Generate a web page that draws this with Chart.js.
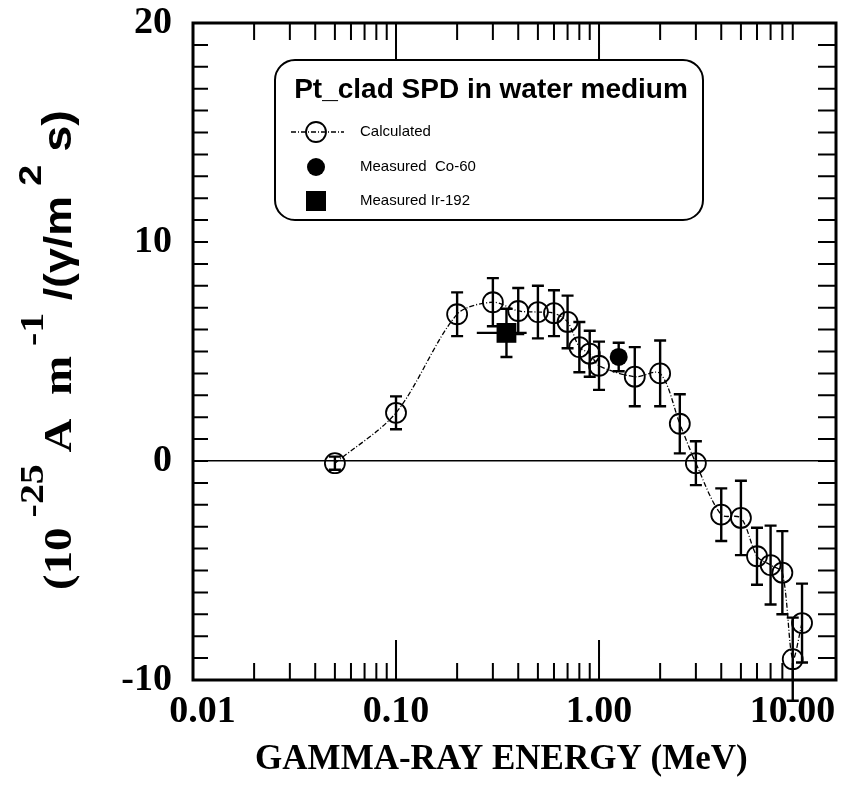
<!DOCTYPE html>
<html>
<head>
<meta charset="utf-8">
<script src="https://cdn.jsdelivr.net/npm/chart.js@4.4.1/dist/chart.umd.min.js"></script>
<style>
  html, body { margin: 0; padding: 0; background: #fff; }
</style>
</head>
<body>
<canvas id="spd" width="846" height="787"></canvas>
<script>
// values
const calcEnergy = [0.05, 0.1, 0.2, 0.3, 0.4, 0.5, 0.6, 0.7, 0.8, 0.9, 1.0, 1.5, 2.0, 2.5, 3.0, 4.0, 5.0, 6.0, 7.0, 8.0, 9.0, 10.0];
const calcValue  = [-0.1, 2.2, 6.7, 7.25, 6.85, 6.8, 6.75, 6.35, 5.2, 4.9, 4.35, 3.85, 4.0, 1.7, -0.1, -2.45, -2.6, -4.35, -4.75, -5.1, -9.05, -7.4];
const calcError  = [0.3, 0.75, 1.0, 1.1, 1.05, 1.2, 1.05, 1.2, 1.15, 1.05, 1.1, 1.35, 1.5, 1.35, 1.0, 1.2, 1.7, 1.3, 1.8, 1.9, 1.9, 1.8];

const coEnergy = [1.25];
const coValue  = [4.75];
const coError  = [0.65];

const irEnergy = [0.35];
const irValue  = [5.85];
const irError  = [1.1];
const irEnergyLo = [0.25];
const irEnergyHi = [0.44];

const xTickValues = [0.01, 0.1, 1, 10];
const xTickLabels = ['\u00a0\u00a00.01', '0.10', '1.00', '10.00\u00a0\u00a0'];
const yTickLabels = ['-10', '0', '10', '20'];

const serif = '"Liberation Serif", "Times New Roman", serif';
const sans = '"Liberation Sans", Arial, sans-serif';

const toPoints = (xs, ys) => xs.map((x, i) => ({ x: x, y: ys[i] }));

// error bars, drawn through the scales
const errorBars = {
  id: 'errorBars',
  afterDatasetsDraw(chart) {
    const ctx = chart.ctx;
    const xs = chart.scales.x, ys = chart.scales.y;
    ctx.save();
    ctx.strokeStyle = '#000';
    ctx.lineWidth = 2.4;
    chart.data.datasets.forEach((ds, i) => {
      if (!ds.err) return;
      const meta = chart.getDatasetMeta(i);
      meta.data.forEach((pt, j) => {
        const v = ds.data[j].y, e = ds.err[j];
        const top = ys.getPixelForValue(v + e), bot = ys.getPixelForValue(v - e);
        ctx.beginPath();
        ctx.moveTo(pt.x, top); ctx.lineTo(pt.x, bot);
        ctx.moveTo(pt.x - 6, top); ctx.lineTo(pt.x + 6, top);
        ctx.moveTo(pt.x - 6, bot); ctx.lineTo(pt.x + 6, bot);
        ctx.stroke();
        if (ds.xLo) {
          ctx.beginPath();
          ctx.moveTo(xs.getPixelForValue(ds.xLo[j]), pt.y);
          ctx.lineTo(xs.getPixelForValue(ds.xHi[j]), pt.y);
          ctx.stroke();
        }
      });
    });
    ctx.restore();
  }
};

// frame, inward ticks, y title and the boxed legend
const frame = {
  id: 'frame',
  afterDraw(chart) {
    const ctx = chart.ctx;
    const a = chart.chartArea;
    const xs = chart.scales.x, ys = chart.scales.y;
    ctx.save();
    ctx.strokeStyle = '#000';

    // x ticks (top and bottom)
    ctx.lineWidth = 2;
    ctx.beginPath();
    for (let d = -2; d <= 0; d++) {
      for (let k = 1; k <= 9; k++) {
        const v = k * Math.pow(10, d);
        const px = xs.getPixelForValue(v);
        const len = k === 1 ? (d === -2 ? 0 : 40) : 17;
        ctx.moveTo(px, a.bottom); ctx.lineTo(px, a.bottom - len);
        ctx.moveTo(px, a.top); ctx.lineTo(px, a.top + len);
      }
    }
    // y ticks (left and right)
    for (let v = -9; v <= 19; v++) {
      const py = ys.getPixelForValue(v);
      ctx.moveTo(a.left, py); ctx.lineTo(a.left + 15, py);
      ctx.moveTo(a.right, py); ctx.lineTo(a.right - 18, py);
    }
    ctx.stroke();

    ctx.lineWidth = 3;
    ctx.strokeRect(a.left, a.top, a.right - a.left, a.bottom - a.top);

    // y title with superscripts
    const parts = [
      { t: '(10', f: 'bold 40px ' + serif, dy: 0 },
      { t: ' -25', f: 'bold 34px ' + serif, dy: -28 },
      { t: ' A  m', f: 'bold 40px ' + serif, dy: 0 },
      { t: ' -1', f: 'bold 34px ' + serif, dy: -28 },
      { t: ' /(\u03b3/m', f: 'bold 38px ' + sans, dy: 0 },
      { t: ' 2', f: 'bold 32px ' + sans, dy: -30 },
      { t: ' s)', f: 'bold 40px ' + sans, dy: 0 }
    ];
    let total = 0;
    parts.forEach(p => { ctx.font = p.f; p.w = ctx.measureText(p.t).width; total += p.w; });
    ctx.translate(71, 350);
    ctx.rotate(-Math.PI / 2);
    ctx.scale(480 / total, 1);
    ctx.fillStyle = '#000';
    ctx.textBaseline = 'alphabetic';
    let cx = -total / 2;
    parts.forEach(p => { ctx.font = p.f; ctx.fillText(p.t, cx, p.dy); cx += p.w; });
    ctx.setTransform(1, 0, 0, 1, 0, 0);

    // legend box
    const bx = 275, by = 60, bw = 428, bh = 160;
    ctx.fillStyle = '#fff';
    ctx.lineWidth = 2;
    ctx.beginPath();
    ctx.roundRect(bx, by, bw, bh, 20);
    ctx.fill();
    ctx.stroke();

    ctx.fillStyle = '#000';
    ctx.font = 'bold 28px ' + sans;
    ctx.textAlign = 'center';
    ctx.textBaseline = 'middle';
    ctx.fillText('Pt_clad SPD in water medium', bx + bw / 2 + 2, 90);

    const rows = [132, 167, 201];
    const sx = 316;
    const dsets = chart.data.datasets;
    // calculated
    ctx.lineWidth = 1.3;
    ctx.setLineDash(dsets[0].borderDash);
    ctx.beginPath();
    ctx.moveTo(291, rows[0]); ctx.lineTo(344, rows[0]);
    ctx.stroke();
    ctx.setLineDash([]);
    ctx.lineWidth = dsets[0].pointBorderWidth;
    ctx.beginPath();
    ctx.arc(sx, rows[0], dsets[0].pointRadius, 0, Math.PI * 2);
    ctx.stroke();
    // Co-60
    ctx.beginPath();
    ctx.arc(sx, rows[1], 9, 0, Math.PI * 2);
    ctx.fill();
    // Ir-192
    ctx.fillRect(sx - 10, rows[2] - 10, 20, 20);

    ctx.font = '15px ' + sans;
    ctx.textAlign = 'left';
    dsets.forEach((ds, i) => ctx.fillText(ds.label, 360, rows[i]));
    ctx.restore();
  }
};

new Chart(document.getElementById('spd'), {
  type: 'line',
  data: {
    datasets: [
      {
        label: 'Calculated',
        data: toPoints(calcEnergy, calcValue),
        err: calcError,
        borderColor: '#000',
        borderWidth: 1.3,
        borderDash: [5, 2, 1, 2],
        tension: 0.3,
        pointRadius: 10,
        pointBorderWidth: 1.8,
        pointBorderColor: '#000',
        pointBackgroundColor: 'rgba(0,0,0,0)',
        clip: false
      },
      {
        label: 'Measured  Co-60',
        data: toPoints(coEnergy, coValue),
        err: coError,
        showLine: false,
        pointRadius: 9,
        pointBorderWidth: 0,
        pointBackgroundColor: '#000',
        clip: false
      },
      {
        label: 'Measured Ir-192',
        data: toPoints(irEnergy, irValue),
        err: irError,
        xLo: irEnergyLo,
        xHi: irEnergyHi,
        showLine: false,
        pointStyle: 'rect',
        pointRadius: 14,
        pointBorderWidth: 0,
        pointBackgroundColor: '#000',
        clip: false
      }
    ]
  },
  options: {
    responsive: false,
    animation: false,
    layout: { autoPadding: false, padding: { top: 23, right: 10, left: 0, bottom: 0 } },
    scales: {
      x: {
        type: 'logarithmic',
        min: 0.01,
        max: 14.7,
        afterBuildTicks: (s) => { s.ticks = xTickValues.map(v => ({ value: v })); },
        afterFit: (s) => { s.height = 107; s.paddingLeft = 0; s.paddingRight = 0; },
        grid: { display: false, drawTicks: false },
        border: { display: false },
        ticks: {
          autoSkip: false,
          maxRotation: 0,
          padding: 9,
          color: '#000',
          font: { family: serif, weight: 'bold', size: 38 },
          callback: (v, i) => xTickLabels[i]
        },
        title: {
          display: true,
          text: 'GAMMA-RAY ENERGY (MeV)\u00a0\u00a0\u00a0',
          color: '#000',
          font: { family: serif, weight: 'bold', size: 35 },
          padding: { top: 0, bottom: 6 }
        }
      },
      y: {
        min: -10,
        max: 20,
        afterFit: (s) => { s.width = 193; s.paddingTop = 0; s.paddingBottom = 0; },
        grid: {
          drawTicks: false,
          color: (c) => c.tick && c.tick.value === 0 ? '#000' : 'rgba(0,0,0,0)',
          lineWidth: 1.5
        },
        border: { display: false },
        ticks: {
          stepSize: 10,
          padding: 21,
          color: '#000',
          font: { family: serif, weight: 'bold', size: 38 },
          callback: (v, i) => yTickLabels[i]
        }
      }
    },
    plugins: {
      legend: { display: false },
      tooltip: { enabled: false }
    }
  },
  plugins: [errorBars, frame]
});
</script>
</body>
</html>
